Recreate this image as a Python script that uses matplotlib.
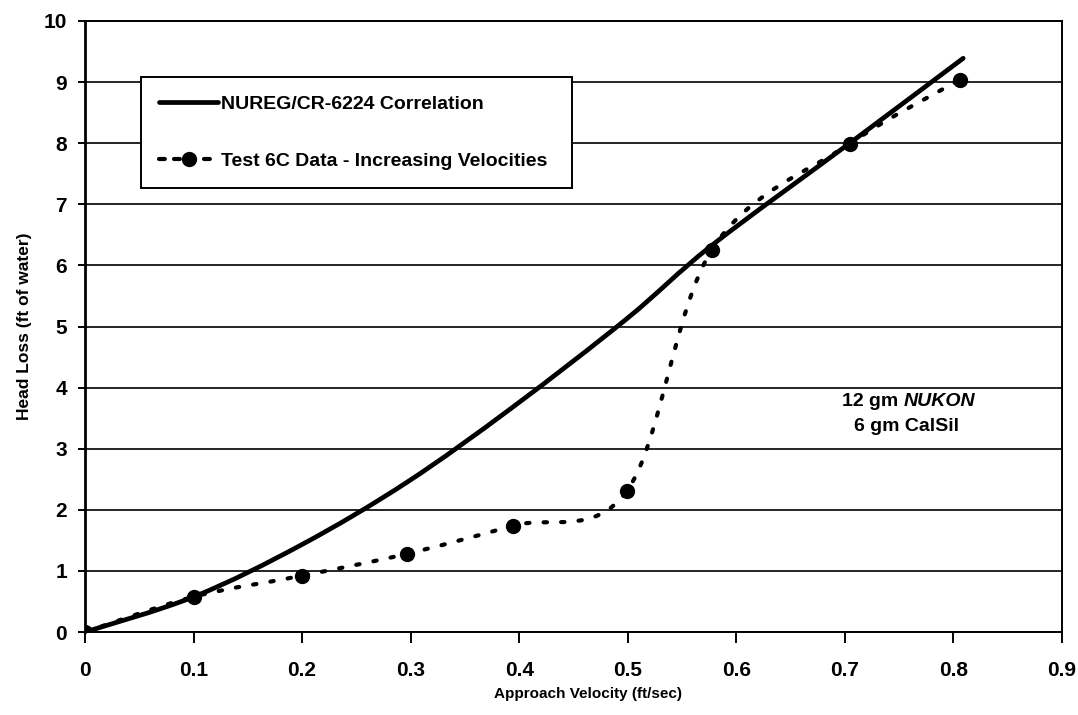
import numpy as np
import matplotlib
matplotlib.use("Agg")
import matplotlib.pyplot as plt
from matplotlib.path import Path
from matplotlib.patches import PathPatch
from matplotlib.lines import Line2D

# test 6C data points (increasing velocities)
velocity_test = [0.0, 0.1007, 0.1997, 0.2965, 0.394, 0.4993, 0.5776, 0.7044, 0.806]
headloss_test = [0.0, 0.58, 0.92, 1.28, 1.74, 2.31, 6.26, 7.99, 9.04]

# NUREG/CR-6224 correlation
velocity_corr = [0.0, 0.1007, 0.1997, 0.2965, 0.394, 0.4993, 0.5776, 0.7044, 0.809]
headloss_corr = [0.0, 0.58, 1.43, 2.45, 3.68, 5.13, 6.33, 8.0, 9.39]

x_ticks = [0, 0.1, 0.2, 0.3, 0.4, 0.5, 0.6, 0.7, 0.8, 0.9]
x_tick_labels = ["0", "0.1", "0.2", "0.3", "0.4", "0.5", "0.6", "0.7", "0.8", "0.9"]
y_ticks = list(range(0, 11))

legend_labels = ["NUREG/CR-6224 Correlation", "Test 6C Data - Increasing Velocities"]

plt.rcParams["font.family"] = ["Liberation Sans", "DejaVu Sans"]
plt.rcParams["font.weight"] = "bold"


def smooth_path(xs, ys):
    # excel-style smoothed line: cubic bezier through each point
    pts = np.column_stack([xs, ys])
    n = len(pts)
    verts = [pts[0]]
    codes = [Path.MOVETO]
    for i in range(n - 1):
        p_prev = pts[max(i - 1, 0)]
        p_next2 = pts[min(i + 2, n - 1)]
        c1 = pts[i] + (pts[i + 1] - p_prev) / 6.0
        c2 = pts[i + 1] - (p_next2 - pts[i]) / 6.0
        verts += [c1, c2, pts[i + 1]]
        codes += [Path.CURVE4] * 3
    return Path(verts, codes)


fig = plt.figure(figsize=(10.78, 7.15), dpi=100)
ax = fig.add_axes([85 / 1078, 83 / 715, 977 / 1078, 611 / 715])

ax.set_xlim(0, 0.9)
ax.set_ylim(0, 10)

for y in y_ticks:
    ax.axhline(y, color="black", lw=1.2, zorder=1)

solid = PathPatch(smooth_path(velocity_corr, headloss_corr), facecolor="none",
                  edgecolor="black", lw=3.4, capstyle="round", joinstyle="round", zorder=3)
ax.add_patch(solid)

dotted = PathPatch(smooth_path(velocity_test, headloss_test), facecolor="none",
                   edgecolor="black", lw=3.0, linestyle=(0, (0.8, 3.4)),
                   capstyle="round", joinstyle="round", zorder=3)
ax.add_patch(dotted)
ax.plot(velocity_test, headloss_test, "o", color="black", ms=10, zorder=4)

ax.set_xticks(x_ticks)
ax.set_xticklabels(x_tick_labels)
ax.set_yticks(y_ticks)
ax.tick_params(axis="x", length=8, width=1.4, pad=13, labelsize=15)
ax.tick_params(axis="y", length=5, width=1.4, pad=8, labelsize=15)
for s in ax.spines.values():
    s.set_linewidth(1.4)
ax.spines["left"].set_linewidth(2.0)

ax.set_xlabel("Approach Velocity (ft/sec)", fontsize=11, fontweight="bold")
ax.xaxis.set_label_coords(0.515, -0.09)
ax.set_ylabel("Head Loss (ft of water)", fontsize=12.5, fontweight="bold")
ax.yaxis.set_label_coords(-0.054, 0.5)

handles = [
    Line2D([], [], color="black", lw=3.4, solid_capstyle="round"),
    Line2D([], [], color="black", lw=3.0, ls=(0, (1.4, 2.2)), marker="o", ms=10,
           dash_capstyle="round"),
]
leg = ax.legend(handles, legend_labels, loc="upper left",
                bbox_to_anchor=(0.0573, 0.730, 0.4412, 0.178), mode="expand",
                borderaxespad=0, fontsize=14, frameon=True, fancybox=False,
                framealpha=1, edgecolor="black", handlelength=3.0,
                handletextpad=0.15, labelspacing=2.0, borderpad=0.95, numpoints=1)
leg.get_frame().set_linewidth(1.4)
for t in leg.get_texts():
    t.set_fontweight("bold")

ax.text(0.7545, 3.78, "12 gm ", fontsize=14, fontweight="bold", ha="right", va="center")
ax.text(0.7545, 3.78, "NUKON", fontsize=14, fontweight="bold", style="italic",
        ha="left", va="center")
ax.text(0.757, 3.37, "6 gm CalSil", fontsize=14, fontweight="bold", ha="center", va="center")

fig.savefig("out.png", dpi=100)
